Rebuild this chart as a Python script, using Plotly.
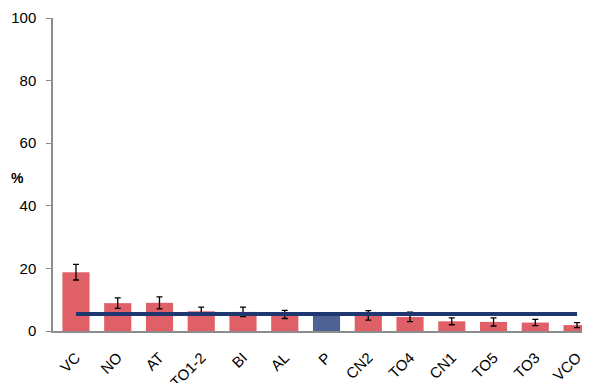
import plotly.graph_objects as go

categories = ["VC", "NO", "AT", "TO1-2", "BI", "AL", "P", "CN2", "TO4", "CN1", "TO5", "TO3", "VCO"]
values = [18.8, 8.9, 9.0, 6.3, 6.1, 5.3, 5.2, 5.0, 4.5, 3.1, 2.9, 2.7, 1.9]
errors = [2.5, 1.7, 1.9, 1.3, 1.5, 1.3, 0.0, 1.5, 1.5, 1.1, 1.3, 1.0, 0.8]
reference_line = [5.4] * 13
y_ticks = [0, 20, 40, 60, 80, 100]

red = "rgb(224,96,104)"
blue = "rgb(78,98,148)"
bar_colors = [blue if c == "P" else red for c in categories]

# page body has an 8px margin; compensate in figure margins
L, T, B, R = 45, 10, 60, 8
W, H = 590, 383
pw, ph = W - L - R, H - T - B

fig = go.Figure()
fig.add_trace(go.Bar(
    x=categories, y=values,
    marker=dict(color=bar_colors, line=dict(width=0)),
    width=0.65,
    error_y=dict(type="data", array=errors, color="black", thickness=1.3, width=3, visible=True),
    showlegend=False,
))
fig.add_trace(go.Scatter(
    x=categories, y=reference_line, mode="lines",
    line=dict(color="rgb(30,55,112)", width=4),
    showlegend=False,
))

fig.update_layout(
    width=W, height=H,
    margin=dict(l=L, r=R, t=T, b=B, autoexpand=False),
    paper_bgcolor="white", plot_bgcolor="white",
    font=dict(family="Liberation Sans, Arial, sans-serif", size=15, color="black"),
)
fig.update_xaxes(
    range=[-0.55, 12.31],
    tickangle=-45, automargin=False,
    showline=True, linecolor="rgb(140,140,140)", linewidth=2,
    ticks="outside", ticklen=10, tickcolor="rgba(0,0,0,0)",
    showgrid=False, zeroline=False,
    tickfont=dict(size=15),
)
fig.update_yaxes(
    range=[0, 100], tickvals=y_ticks, automargin=False,
    showline=True, linecolor="rgb(140,140,140)", linewidth=1.5,
    ticks="outside", ticklen=5, tickcolor="rgb(140,140,140)",
    ticklabelstandoff=7,
    showgrid=False, zeroline=False,
    tickfont=dict(size=15),
)
fig.add_annotation(
    text="<b>%</b>", xref="paper", yref="paper",
    x=(9 - L) / pw, y=(H - B - 170) / ph,
    xanchor="center", yanchor="middle",
    showarrow=False, font=dict(size=14),
)

fig.write_html("out.html")
